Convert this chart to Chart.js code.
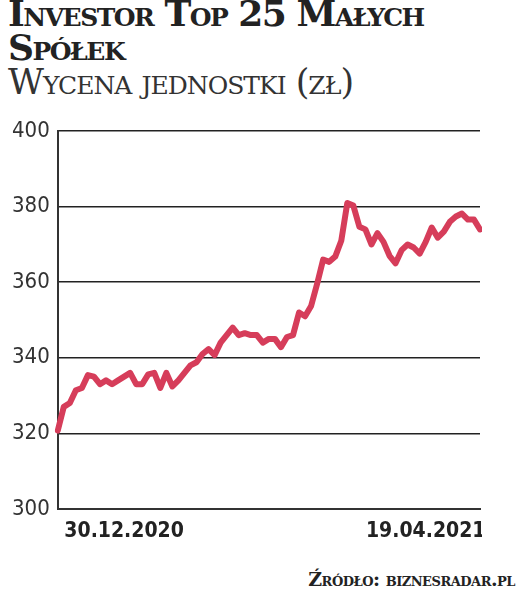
<!DOCTYPE html><html><head><meta charset="utf-8">
<script src="https://cdn.jsdelivr.net/npm/chart.js@4/dist/chart.umd.min.js"></script>
<style>
body{margin:0;background:#fff;width:523px;height:593px;position:relative;overflow:hidden}
#t{position:absolute;left:8px;top:-4px;font:bold 36px "DejaVu Serif";font-variant:small-caps;line-height:34px;color:#222;letter-spacing:-1.5px}
#s{position:absolute;left:8px;top:62px;font:35px "DejaVu Serif";font-variant:small-caps;color:#333;letter-spacing:-1px}
#src{position:absolute;right:8px;top:568px;font:bold 19px "DejaVu Serif";font-variant:small-caps;color:#222;letter-spacing:-0.5px}
#w{position:absolute;left:0;top:110px;width:482px;height:436px}
</style></head><body>
<div id="t">Investor Top 25 Małych<br>Spółek</div>
<div id="s">Wycena jednostki (zł)</div>
<div id="w"><canvas id="c"></canvas></div>
<div id="src">Źródło: biznesradar.pl</div>
<script>
const values=[320.7,327,328,331.4,332,335.4,335,333,334,333,334,335,336,333,333,335.6,336,332,336,332.4,334,336,338,338.8,341,342.3,340.7,344,346,348,346,346.5,346,346,344,345,345,342.8,345.5,346,352,351,353.7,359.6,366,365.4,366.8,371,381,380.3,374.7,374,370,373,370.7,367,365,368.5,370,369.2,367.6,370.7,374.5,371.8,373.4,376,377.4,378.2,376.6,376.6,374];
const categories=values.map((v,i)=>String(i));
const xTickLabels={11:"30.12.2020",61:"19.04.2021"};
const yTicks=[300,320,340,360,380,400];
new Chart(document.getElementById('c'),{type:'line',
data:{labels:categories,datasets:[{data:values,borderColor:'#d63d5a',borderWidth:6,pointRadius:0,tension:0,borderJoinStyle:'round',borderCapStyle:'round'}]},
options:{responsive:true,maintainAspectRatio:false,animation:false,
layout:{padding:{top:8,right:0,left:4}},
plugins:{legend:{display:false},tooltip:{enabled:false}},
scales:{
x:{offset:false,grid:{display:false},border:{color:'#333',width:2},
ticks:{autoSkip:false,maxRotation:0,padding:2,color:'#222',font:{family:'DejaVu Sans Condensed',size:21,weight:'bold'},callback:(v,i)=>xTickLabels[i]||''}},
y:{min:300,max:400,afterBuildTicks:a=>{a.ticks=yTicks.map(v=>({value:v}))},
grid:{color:'#222',lineWidth:1.5,drawTicks:false},border:{color:'#333',width:2},
ticks:{padding:8,color:'#333',font:{family:'DejaVu Sans Condensed',size:22}}}}}});
</script></body></html>
